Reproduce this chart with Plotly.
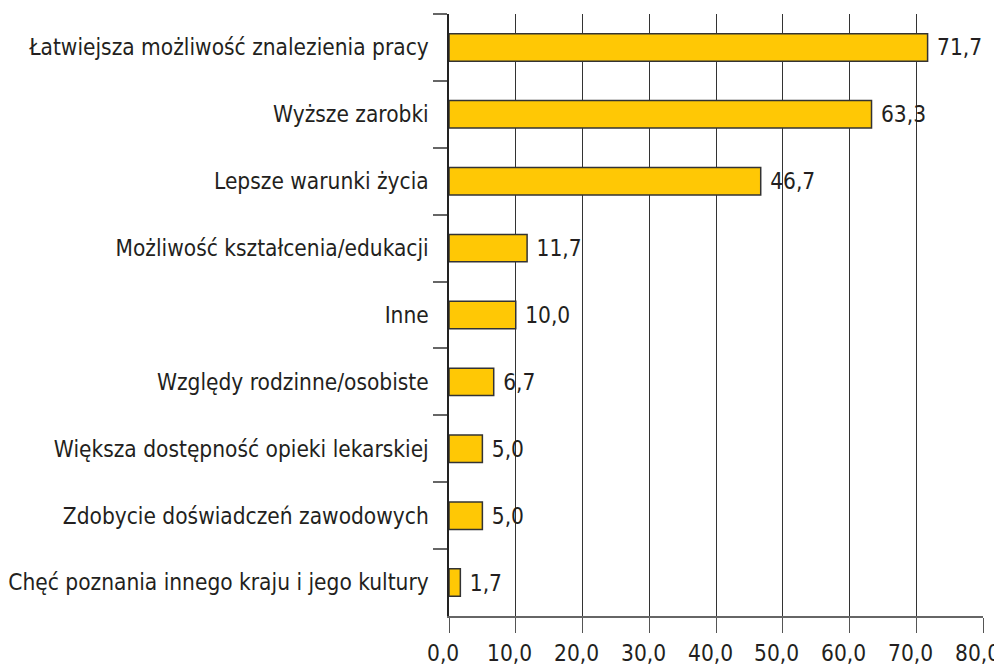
import plotly.graph_objects as go

categories = [
    "Łatwiejsza możliwość znalezienia pracy",
    "Wyższe zarobki",
    "Lepsze warunki życia",
    "Możliwość kształcenia/edukacji",
    "Inne",
    "Względy rodzinne/osobiste",
    "Większa dostępność opieki lekarskiej",
    "Zdobycie doświadczeń zawodowych",
    "Chęć poznania innego kraju i jego kultury",
]
values = [71.7, 63.3, 46.7, 11.7, 10.0, 6.7, 5.0, 5.0, 1.7]
x_ticks = [0, 10, 20, 30, 40, 50, 60, 70, 80]
x_tick_labels = ["0,0", "10,0", "20,0", "30,0", "40,0", "50,0", "60,0", "70,0", "80,0"]

FONT = "Liberation Sans Narrow, DejaVu Sans Condensed, Roboto Condensed, Arial Narrow, sans-serif"
FS = 22.5

fig = go.Figure(go.Bar(
    y=categories,
    x=values,
    orientation="h",
    marker=dict(color="#FFC805", line=dict(color="#333333", width=1.5)),
    texttemplate=" %{x:.1f}",
    textposition="outside",
    textfont=dict(family=FONT, size=FS, color="#231F20"),
    cliponaxis=False,
))

# the page body adds an 8px offset; figure sized to fill the rest of the window
fig.update_layout(
    width=994, height=658,
    margin=dict(l=441, r=19, t=6, b=50),
    paper_bgcolor="white", plot_bgcolor="white",
    separators=",.",
    bargap=0.59,
    showlegend=False,
    font=dict(family=FONT, size=FS, color="#231F20"),
)
fig.update_xaxes(
    range=[0, 80],
    tickvals=x_ticks,
    showticklabels=False,
    showgrid=True, gridcolor="#333333", gridwidth=1,
    ticks="outside", ticklen=15, tickcolor="#555555", tickwidth=1,
    showline=True, linecolor="#666666", linewidth=1.5,
    zeroline=False,
    automargin=False,
)
fig.update_yaxes(
    autorange="reversed",
    categoryorder="array", categoryarray=categories,
    tickson="boundaries",
    ticks="outside", ticklen=14, tickcolor="#666666", tickwidth=1.5,
    showline=True, linecolor="#222222", linewidth=1.5,
    showgrid=False,
    automargin=False,
    ticklabelstandoff=14,
    tickfont=dict(family=FONT, size=FS, color="#231F20"),
)

# x tick labels, placed on the x scale and nudged slightly left as in the original
for v, t in zip(x_ticks, x_tick_labels):
    fig.add_annotation(
        x=v, xref="x", y=0, yref="paper",
        text=t, showarrow=False,
        xanchor="center", yanchor="top",
        xshift=-6, yshift=-22,
        font=dict(family=FONT, size=FS, color="#231F20"),
    )

fig.write_html("out.html")
